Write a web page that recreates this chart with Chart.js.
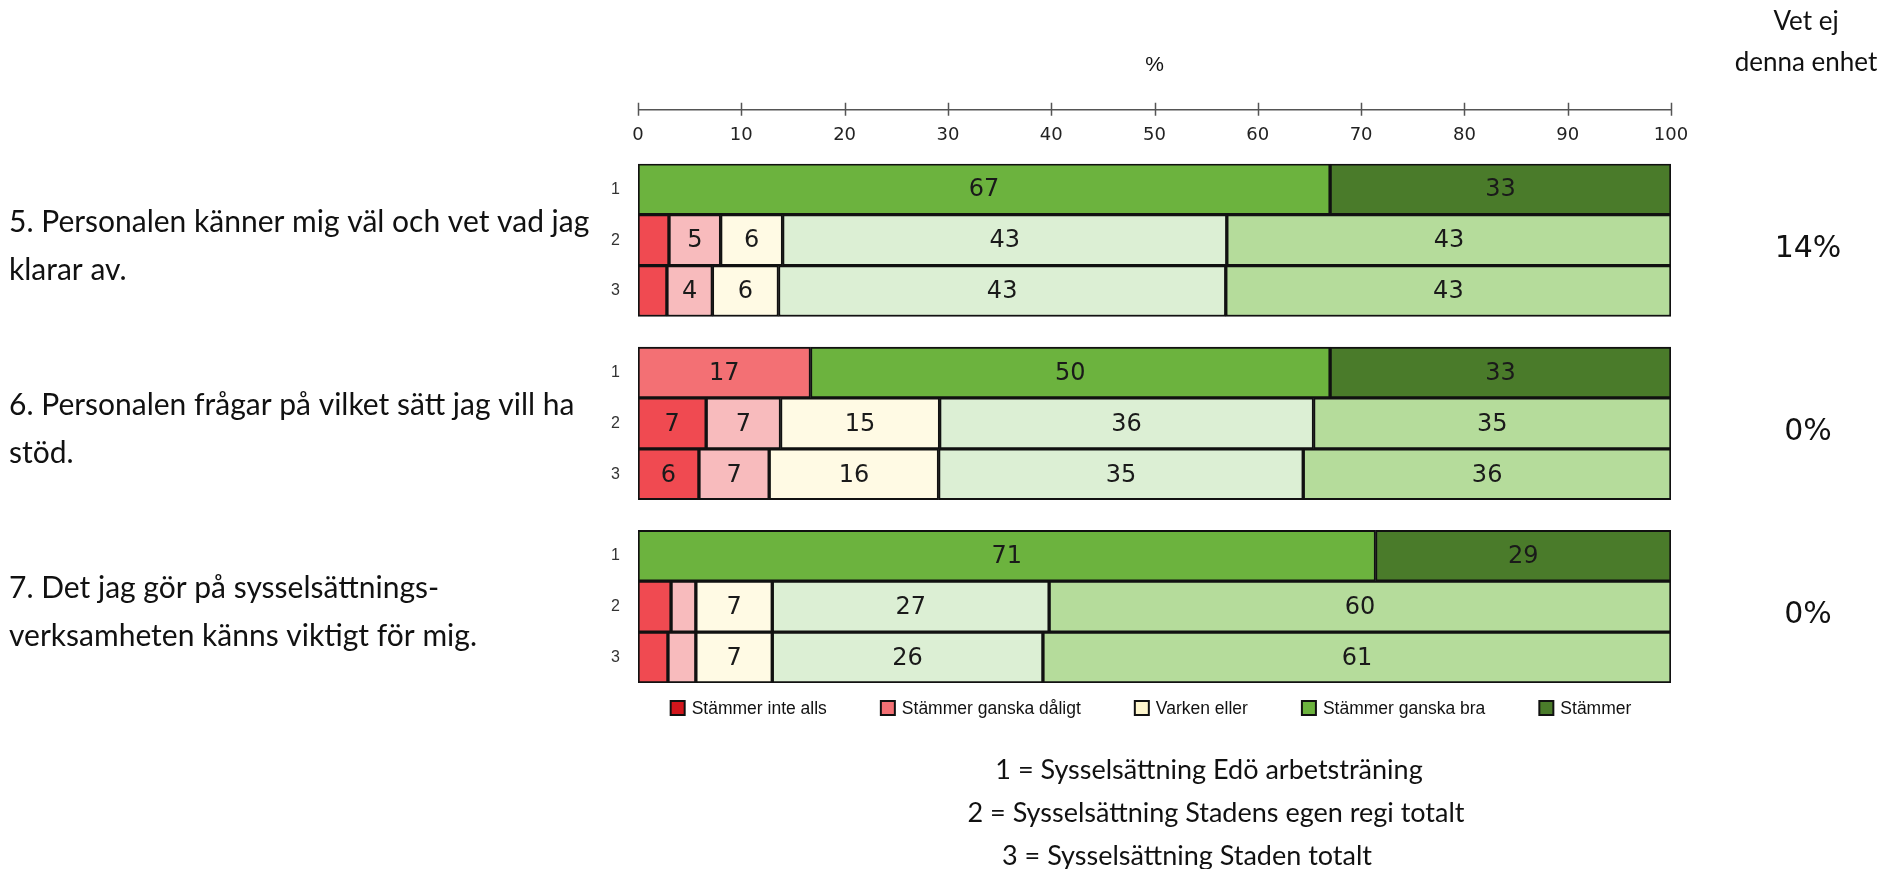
<!DOCTYPE html>
<html lang="sv">
<head>
<meta charset="utf-8">
<title>Sysselsättning – bemötande</title>
<script src="https://cdn.jsdelivr.net/npm/chart.js@4/dist/chart.umd.min.js"></script>
<style>
  html, body { margin: 0; padding: 0; background: #fff; }
  canvas { display: block; }
</style>
</head>
<body>
<canvas id="myChart" width="1896" height="869"></canvas>
<script>
// svarsalternativ
const responses = ['Stämmer inte alls', 'Stämmer ganska dåligt', 'Varken eller', 'Stämmer ganska bra', 'Stämmer'];

// frågor (två rader var)
const questions = [
  ['5. Personalen känner mig väl och vet vad jag', 'klarar av.'],
  ['6. Personalen frågar på vilket sätt jag vill ha', 'stöd.'],
  ['7. Det jag gör på sysselsättnings-', 'verksamheten känns viktigt för mig.']
];
const units = ['1', '2', '3'];
const unitNames = [
  '1 = Sysselsättning Edö arbetsträning',
  '2 = Sysselsättning Stadens egen regi totalt',
  '3 = Sysselsättning Staden totalt'
];
const vetEj = ['14%', '0%', '0%'];
const xTicks = [0, 10, 20, 30, 40, 50, 60, 70, 80, 90, 100];

// procent per rad: fråga 5 (1,2,3), fråga 6 (1,2,3), fråga 7 (1,2,3)
const stammerInteAlls     = [null, 3.0, 2.8, null, 6.6, 5.9, null, 3.2, 2.9];
const stammerGanskaDaligt = [null, 5.0, 4.4, 16.7, 7.2, 6.8, null, 2.4, 2.7];
const varkenEller         = [null, 6.0, 6.4, null, 15.4, 16.4, null, 7.4, 7.4];
const stammerGanskaBra    = [67, 43.0, 43.3, 50.3, 36.2, 35.3, 71.4, 26.8, 26.2];
const stammer             = [33, 43.0, 43.1, 33.0, 34.6, 35.6, 28.6, 60.2, 60.8];

const series = [stammerInteAlls, stammerGanskaDaligt, varkenEller, stammerGanskaBra, stammer];

// var raderna ligger på y-axeln (lite luft mellan frågorna)
const rowSlots = [0, 1, 2, 3.6, 4.6, 5.6, 7.2, 8.2, 9.2];

// färger: rad 1 mättade, rad 2 och 3 ljusare
const strongColors = ['#d2161c', '#f37074', '#fef6cd', '#6cb33e', '#4a7b2a'];
const lightColors  = ['#f04a51', '#f8bbbd', '#fffae4', '#dcefd4', '#b5dc9b'];

const lato = 'Lato, "Noto Sans", sans-serif';

const decor = {
  id: 'decor',
  afterDatasetsDraw(chart) {
    const ctx = chart.ctx;
    ctx.save();
    ctx.font = '24px "DejaVu Sans"';
    ctx.fillStyle = '#1a1a1a';
    ctx.textAlign = 'center';
    ctx.textBaseline = 'middle';
    series.forEach((values, i) => {
      chart.getDatasetMeta(i).data.forEach((bar, j) => {
        const v = values[j];
        if (v == null || v < 3.5) return;
        const p = bar.getCenterPoint();
        ctx.fillText(String(Math.round(v)), p.x, p.y + 1);
      });
    });
    ctx.restore();
  },
  afterDraw(chart) {
    const ctx = chart.ctx;
    const xs = chart.scales.x;
    const ys = chart.scales.y;
    const area = chart.chartArea;
    ctx.save();

    // axellinje med streck ovanför siffrorna
    const lineY = area.top - 54;
    ctx.strokeStyle = '#555';
    ctx.lineWidth = 1.5;
    ctx.beginPath();
    ctx.moveTo(xs.getPixelForValue(0), lineY);
    ctx.lineTo(xs.getPixelForValue(100), lineY);
    xs.ticks.forEach(t => {
      const px = Math.round(xs.getPixelForValue(t.value)) + 0.5;
      ctx.moveTo(px, lineY - 7);
      ctx.lineTo(px, lineY + 6);
    });
    ctx.stroke();

    // frågetexter till vänster och "vet ej" till höger
    ctx.fillStyle = '#111';
    ctx.textBaseline = 'middle';
    questions.forEach((lines, q) => {
      const mid = ys.getPixelForValue(rowSlots[q * 3 + 1]);
      ctx.font = '30px ' + lato;
      ctx.textAlign = 'left';
      ctx.fillText(lines[0], 9, mid - 18);
      ctx.fillText(lines[1], 9, mid + 30);
      ctx.font = '30px "DejaVu Sans"';
      ctx.textAlign = 'center';
      ctx.fillText(vetEj[q], 1808, mid + 9);
    });
    ctx.font = '26px ' + lato;
    ctx.textAlign = 'center';
    ctx.fillText('Vet ej', 1806, 22);
    ctx.fillText('denna enhet', 1806, 63);

    // teckenförklaring
    ctx.font = '17.5px "Liberation Sans", Arial, sans-serif';
    const box = 16, gapText = 6, gapItem = 53;
    const widths = responses.map(r => box + gapText + ctx.measureText(r).width);
    const total = widths.reduce((a, b) => a + b, 0) + gapItem * (responses.length - 1);
    let lx = (area.left + area.right) / 2 - total / 2 - 4;
    const ly = area.bottom + 25;
    ctx.textAlign = 'left';
    responses.forEach((r, i) => {
      ctx.fillStyle = '#111';
      ctx.fillRect(lx, ly - box / 2, box, box);
      ctx.fillStyle = strongColors[i];
      ctx.fillRect(lx + 2, ly - box / 2 + 2, box - 4, box - 4);
      ctx.fillStyle = '#111';
      ctx.fillText(r, lx + box + gapText, ly + 1);
      lx += widths[i] + gapItem;
    });

    // förklaring av enheterna
    ctx.font = '27px ' + lato;
    ctx.textAlign = 'center';
    const noteX = [1209, 1216, 1187];
    unitNames.forEach((t, i) => ctx.fillText(t, noteX[i], 770 + i * 43));
    ctx.restore();
  }
};

const ctx = document.getElementById('myChart').getContext('2d');

const myChart = new Chart(ctx, {
  type: 'bar',
  data: {
    datasets: responses.map((name, k) => ({
      label: name,
      data: series[k].map((v, i) => ({ x: v, y: rowSlots[i] })),
      backgroundColor: rowSlots.map((_, i) => (i % 3 === 0 ? strongColors[k] : lightColors[k])),
      borderColor: '#111',
      borderWidth: 2,
      borderSkipped: false,
      barPercentage: 1,
      categoryPercentage: 1
    }))
  },
  options: {
    indexAxis: 'y',
    responsive: false,
    animation: false,
    layout: { padding: { top: 50, left: 598, right: 225, bottom: 186 } },
    plugins: {
      legend: { display: false },
      tooltip: { enabled: false }
    },
    scales: {
      x: {
        position: 'top',
        stacked: true,
        min: 0,
        max: 100,
        afterBuildTicks: (scale) => { scale.ticks = xTicks.map(v => ({ value: v })); },
        grid: { display: false, drawTicks: false },
        border: { display: false },
        ticks: {
          padding: 18,
          color: '#222',
          font: { family: '"DejaVu Sans"', size: 18 }
        },
        title: {
          display: true,
          text: '%',
          color: '#111',
          padding: { top: 3, bottom: 28 },
          font: { family: '"Liberation Sans Narrow", "Liberation Sans"', size: 21 }
        }
      },
      y: {
        type: 'linear',
        stacked: true,
        reverse: true,
        offset: false,
        min: -0.5,
        max: 9.7,
        afterBuildTicks: (scale) => { scale.ticks = rowSlots.map(v => ({ value: v })); },
        afterFit: (scale) => { scale.width = 40; },
        grid: { display: false, drawTicks: false },
        border: { display: false },
        ticks: {
          padding: 18,
          color: '#333',
          autoSkip: false,
          font: { family: '"Liberation Sans", Arial', size: 16 },
          callback: (value, index) => units[index % 3]
        }
      }
    }
  },
  plugins: [decor]
});
</script>
</body>
</html>
